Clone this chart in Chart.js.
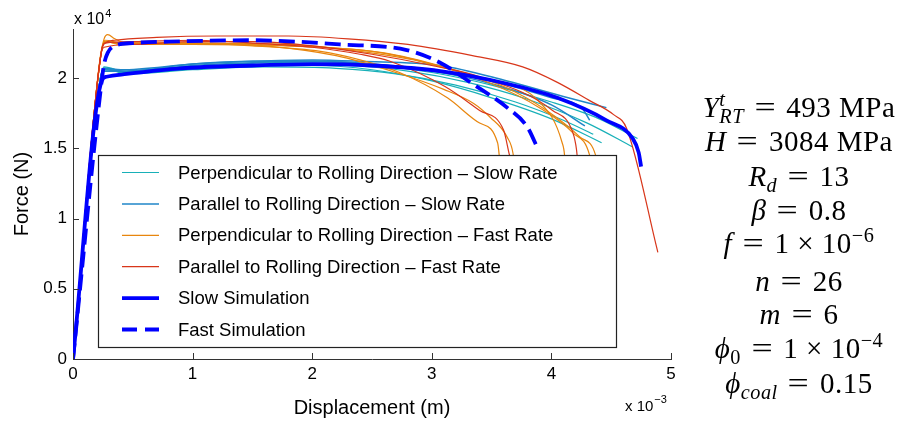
<!DOCTYPE html>
<html><head><meta charset="utf-8">
<script src="https://cdn.jsdelivr.net/npm/chart.js@4"></script>
<style>
html,body{margin:0;padding:0;background:#fff;}
#wrap{position:relative;width:919px;height:422px;overflow:hidden;background:#fff;}
#c{position:absolute;left:0;top:0;}
#eq{position:absolute;left:679px;top:0;width:240px;height:422px;font-family:"Liberation Serif","Times New Roman",serif;font-size:29px;color:#000;letter-spacing:0.5px;}
.l{position:absolute;left:0;width:240px;text-align:center;white-space:nowrap;line-height:28px;height:28px;}
.l i{font-style:italic;}
.e{display:inline-block;transform:scaleX(1.3);margin:0 5px;}
.sp{font-size:70%;position:relative;top:-0.55em;}
.sb{font-size:70%;position:relative;top:0.3em;}
.st{display:inline-block;width:0;}
</style></head>
<body><div id="wrap"><canvas id="c" width="919" height="422"></canvas>
<div id="eq">
<div class="l" style="top:93px"><i>Y</i><span class="sp st"><i>t</i></span><span class="sb"><i>RT</i></span> <span class="e">=</span> 493 MPa</div>
<div class="l" style="top:127px"><i>H</i> <span class="e">=</span> 3084 MPa</div>
<div class="l" style="top:162px"><i>R</i><span class="sb"><i>d</i></span> <span class="e">=</span> 13</div>
<div class="l" style="top:196px"><i>β</i> <span class="e">=</span> 0.8</div>
<div class="l" style="top:229px"><i>f</i> <span class="e">=</span> 1 × 10<span class="sp">−6</span></div>
<div class="l" style="top:267px"><i>n</i> <span class="e">=</span> 26</div>
<div class="l" style="top:300px"><i>m</i> <span class="e">=</span> 6</div>
<div class="l" style="top:334px"><i>ϕ</i><span class="sb">0</span> <span class="e">=</span> 1 × 10<span class="sp">−4</span></div>
<div class="l" style="top:369px"><i>ϕ</i><span class="sb"><i>coal</i></span> <span class="e">=</span> 0.15</div>
</div></div>
<script>
// ---- data (x in 10^-3 m, y in 10^4 N) ----
const xTicks = [0, 1, 2, 3, 4, 5];
const xTickLabels = ['0', '1', '2', '3', '4', '5'];
const yTicks = [0, 0.5, 1, 1.5, 2];
const yTickLabels = ['0', '0.5', '1', '1.5', '2'];
const legendLabels = [
  'Perpendicular to Rolling Direction – Slow Rate',
  'Parallel to Rolling Direction – Slow Rate',
  'Perpendicular to Rolling Direction – Fast Rate',
  'Parallel to Rolling Direction – Fast Rate',
  'Slow Simulation',
  'Fast Simulation'
];
const perpSlow = [
  [[0,0],[0.22,1.95],[0.26,2.07],[0.3,2.07],[0.45,2.04],[1.0,2.07],[1.5,2.09],[2.0,2.09],[2.5,2.06],[3.0,1.98],[3.5,1.86],[4.0,1.71],[4.42,1.54]],
  [[0,0],[0.22,1.95],[0.26,2.08],[0.45,2.04],[1.0,2.07],[1.7,2.1],[2.3,2.09],[2.8,2.05],[3.3,1.97],[3.8,1.85],[4.3,1.68],[4.68,1.51]],
  [[0,0],[0.22,1.95],[0.26,2.06],[0.45,2.04],[1.0,2.08],[1.7,2.11],[2.4,2.1],[3.0,2.04],[3.5,1.95],[4.0,1.83],[4.4,1.71],[4.72,1.57]],
  [[0,0],[0.22,1.95],[0.26,2.07],[0.45,2.03],[1.0,2.06],[1.6,2.08],[2.2,2.07],[2.7,2.03],[3.2,1.95],[3.7,1.83],[4.1,1.7],[4.35,1.6]]
];
const parSlow = [
  [[0,0],[0.22,1.95],[0.26,2.07],[0.4,2.06],[1.0,2.1],[1.5,2.12],[2.0,2.13],[2.4,2.12],[3.07,2.09],[3.63,1.98],[4.1,1.87],[4.46,1.79]],
  [[0,0],[0.22,1.95],[0.26,2.05],[0.45,2.05],[1.0,2.09],[1.5,2.11],[2.0,2.12],[2.5,2.1],[3.0,2.05],[3.5,1.96],[4.0,1.81],[4.28,1.66]],
  [[0,0],[0.22,1.95],[0.26,2.06],[0.45,2.05],[1.0,2.1],[1.5,2.12],[2.0,2.12],[2.5,2.1],[3.0,2.06],[3.5,1.98],[4.0,1.86],[4.26,1.78],[4.32,1.7]]
];
const perpFast = [
  [[0,0],[0.22,2.1],[0.26,2.28],[0.29,2.31],[0.35,2.28],[0.45,2.25],[1.0,2.25],[1.5,2.23],[2.07,2.19],[2.4,2.13],[2.73,2.04],[3.13,1.86],[3.4,1.68],[3.55,1.54],[3.58,1.3]],
  [[0,0],[0.23,2.15],[0.27,2.26],[0.4,2.25],[1.0,2.25],[1.6,2.23],[2.2,2.16],[2.7,2.04],[3.1,1.92],[3.35,1.82],[3.49,1.72],[3.63,1.58],[3.68,1.46],[3.7,1.3]],
  [[0,0],[0.23,2.15],[0.27,2.27],[0.4,2.25],[1.0,2.25],[1.8,2.24],[2.4,2.19],[2.9,2.12],[3.4,2.0],[3.9,1.83],[4.09,1.54],[4.11,1.45],[4.12,1.3]],
  [[0,0],[0.23,2.15],[0.27,2.26],[0.4,2.24],[1.0,2.24],[1.8,2.23],[2.5,2.19],[3.0,2.1],[3.5,1.96],[3.9,1.79],[4.18,1.61],[4.32,1.45],[4.35,1.3]],
  [[0,0],[0.23,2.15],[0.27,2.26],[0.4,2.24],[1.0,2.24],[1.8,2.23],[2.6,2.18],[3.1,2.08],[3.6,1.94],[3.96,1.77],[4.24,1.58],[4.37,1.45],[4.4,1.3]]
];
const parFast = [
  [[0,0],[0.24,2.2],[0.27,2.25],[0.35,2.27],[0.7,2.29],[1.2,2.3],[1.8,2.3],[2.3,2.28],[2.8,2.24],[3.34,2.16],[3.76,2.08],[4.05,1.97],[4.32,1.84],[4.52,1.74],[4.63,1.64],[4.89,0.76]],
  [[0,0],[0.24,2.2],[0.27,2.25],[0.5,2.26],[1.0,2.27],[1.5,2.25],[2.0,2.22],[2.4,2.17],[2.65,2.12],[3.11,1.94],[3.4,1.77],[3.6,1.63],[3.65,1.45],[3.7,1.3]],
  [[0,0],[0.23,2.15],[0.26,2.22],[0.5,2.24],[1.0,2.26],[1.5,2.26],[2.0,2.23],[2.5,2.17],[3.0,2.09],[3.4,2.01],[4.01,1.77],[4.18,1.61],[4.21,1.49],[4.23,1.3]]
];
const slowSim = [[0,0],[0.24,1.98],[0.28,2.01],[0.45,2.03],[0.9,2.07],[1.5,2.09],[2.0,2.1],[2.5,2.09],[3.07,2.05],[3.63,1.96],[4.05,1.86],[4.46,1.7],[4.68,1.57],[4.73,1.47],[4.75,1.37]];
const fastSim = [[0,0],[0.24,1.98],[0.26,2.1],[0.29,2.18],[0.35,2.23],[0.5,2.25],[0.8,2.26],[1.5,2.27],[2.23,2.24],[2.79,2.2],[3.07,2.11],[3.34,1.96],[3.63,1.79],[3.8,1.65],[3.89,1.49]];

// ---- styles ----
const groupStyles = [
  {color:'#18b0b8', width:1.2, dash:[], order:4},
  {color:'#1f86c8', width:1.5, dash:[], order:3},
  {color:'#e8860e', width:1.2, dash:[], order:2},
  {color:'#d8361a', width:1.2, dash:[], order:1},
  {color:'#0000ff', width:3.8, dash:[], order:0},
  {color:'#0000ff', width:3.8, dash:[16,7], order:0}
];
const groups = [perpSlow, parSlow, perpFast, parFast, [slowSim], [fastSim]];

const datasets = [];
groups.forEach((curves, gi) => {
  const st = groupStyles[gi];
  curves.forEach((pts, ci) => {
    datasets.push({
      label: legendLabels[gi],
      data: pts.map(p => ({x:p[0], y:p[1]})),
      borderColor: st.color,
      backgroundColor: st.color,
      borderWidth: st.width,
      borderDash: st.dash,
      pointRadius: 0,
      fill: false,
      cubicInterpolationMode: 'monotone',
      order: st.order,
      showInLegend: ci === 0
    });
  });
});

const FONT = '"Liberation Sans", Arial, sans-serif';

const overlay = {
  id: 'overlay',
  afterDatasetsDraw(chart) {
    const {ctx, chartArea: a, scales: {x, y}} = chart;
    ctx.save();
    // inward tick marks
    ctx.strokeStyle = '#333'; ctx.lineWidth = 1; ctx.setLineDash([]);
    ctx.beginPath();
    x.ticks.forEach(t => { const px = Math.round(x.getPixelForValue(t.value)) + 0.5; ctx.moveTo(px, a.bottom); ctx.lineTo(px, a.bottom - 6); });
    y.ticks.forEach(t => { const py = Math.round(y.getPixelForValue(t.value)) + 0.5; ctx.moveTo(a.left, py); ctx.lineTo(a.left + 6, py); });
    ctx.stroke();
    // legend box
    const bx = a.left + 25, by = a.top + 126, bw = 518, bh = 192;
    ctx.fillStyle = '#fff';
    ctx.fillRect(bx, by, bw, bh);
    ctx.strokeStyle = '#222'; ctx.lineWidth = 1.2;
    ctx.strokeRect(bx + 0.5, by + 0.5, bw, bh);
    const entries = chart.data.datasets.filter(d => d.showInLegend);
    ctx.font = '18.5px ' + FONT;
    ctx.textBaseline = 'middle';
    ctx.textAlign = 'left';
    entries.forEach((d, i) => {
      const ey = by + 17.5 + i * 31.4;
      ctx.strokeStyle = d.borderColor;
      ctx.lineWidth = d.borderWidth;
      ctx.setLineDash(d.borderDash && d.borderDash.length ? [15, 8] : []);
      ctx.beginPath();
      ctx.moveTo(bx + 24, ey); ctx.lineTo(bx + 61, ey);
      ctx.stroke();
      ctx.setLineDash([]);
      ctx.fillStyle = '#000';
      ctx.fillText(d.label, bx + 80, ey + 1);
    });
    // exponent labels
    ctx.fillStyle = '#000';
    ctx.textBaseline = 'alphabetic';
    ctx.font = '16px ' + FONT;
    ctx.fillText('x 10', a.left + 1, a.top - 5);
    let w = ctx.measureText('x 10').width;
    ctx.font = '11px ' + FONT;
    ctx.fillText('4', a.left + 2 + w, a.top - 12);
    ctx.font = '15px ' + FONT;
    const ex = a.right - 46;
    ctx.fillText('x 10', ex, a.bottom + 52);
    w = ctx.measureText('x 10').width;
    ctx.font = '11px ' + FONT;
    ctx.fillText('−3', ex + w + 1, a.bottom + 44);
    ctx.restore();
  }
};

new Chart(document.getElementById('c'), {
  type: 'line',
  data: { datasets },
  plugins: [overlay],
  options: {
    responsive: false,
    animation: false,
    events: [],
    layout: { padding: { left: 0, right: 248, top: 29, bottom: 0 } },
    plugins: { legend: { display: false }, tooltip: { enabled: false } },
    elements: { line: { tension: 0 } },
    scales: {
      x: {
        type: 'linear', min: 0, max: 5,
        afterFit: s => { s.height = 63; },
        afterBuildTicks: s => { s.ticks = xTicks.map(v => ({value: v})); },
        ticks: { callback: v => xTickLabels[xTicks.indexOf(v)], color: '#000', font: {family: FONT, size: 17}, padding: 5, maxRotation: 0, autoSkip: false },
        grid: { display: false, drawTicks: false },
        border: { display: true, color: '#333', width: 1 },
        title: { display: true, text: 'Displacement (m)', color: '#000', font: {family: FONT, size: 20}, padding: {top: 0, bottom: 2} }
      },
      y: {
        type: 'linear', min: 0, max: 2.35,
        afterFit: s => { s.width = 73; },
        afterBuildTicks: s => { s.ticks = yTicks.map(v => ({value: v})); },
        ticks: { callback: v => yTickLabels[yTicks.indexOf(v)], color: '#000', font: {family: FONT, size: 17}, padding: 6 },
        grid: { display: false, drawTicks: false },
        border: { display: true, color: '#333', width: 1 },
        title: { display: true, text: 'Force (N)', color: '#000', font: {family: FONT, size: 20}, padding: {top: 10, bottom: 0} }
      }
    }
  }
});
</script>
</body></html>
